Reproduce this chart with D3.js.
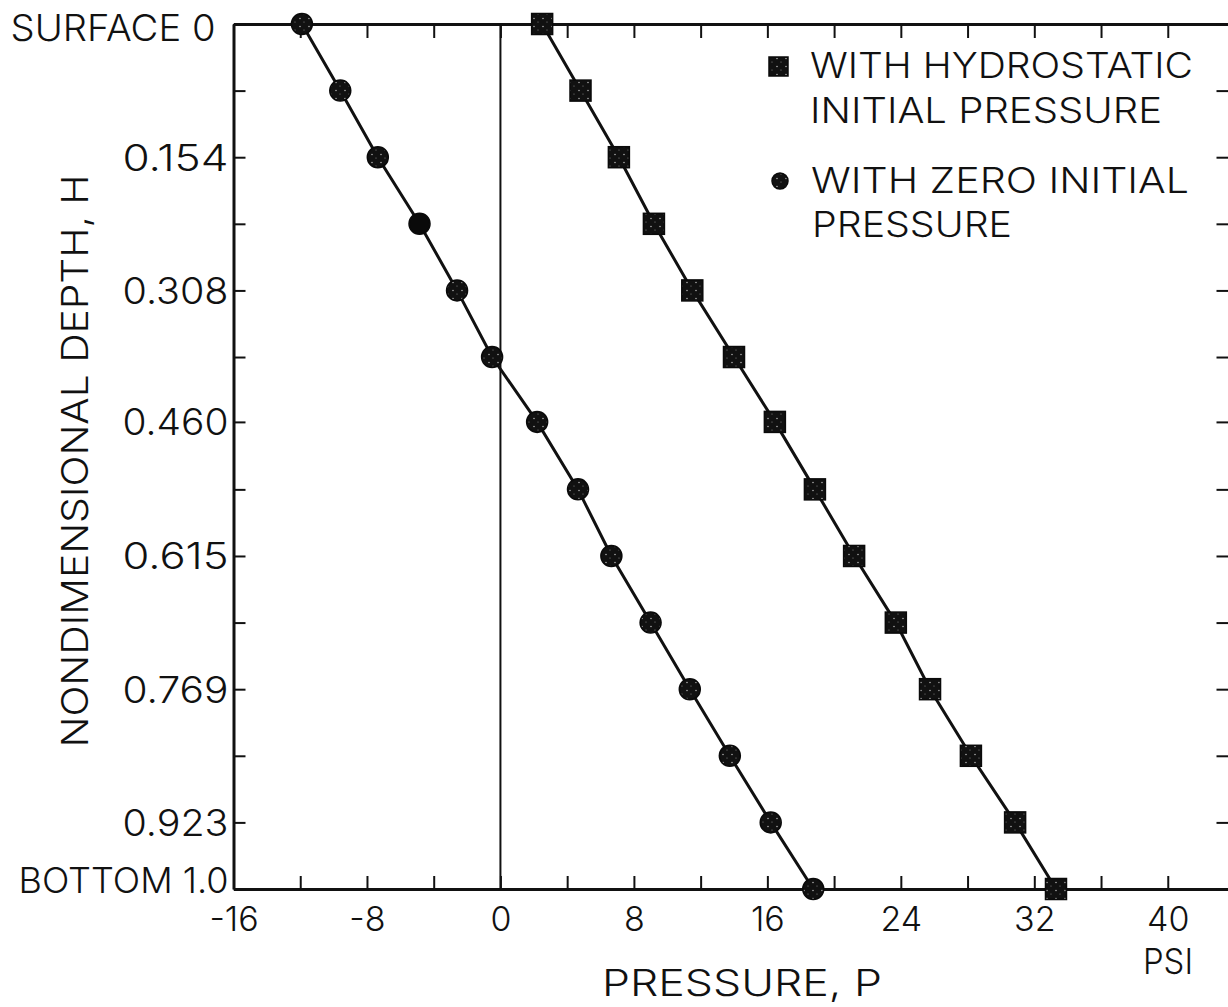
<!DOCTYPE html>
<html>
<head>
<meta charset="utf-8">
<script src="https://cdn.jsdelivr.net/npm/d3@7"></script>
<style>
  html, body { margin: 0; padding: 0; background: #fff; }
  svg text { font-family: "Inter", "Liberation Sans", "DejaVu Sans", sans-serif; font-weight: 300; fill: #111; }
</style>
</head>
<body>
<svg id="chart" width="1228" height="1007"></svg>
<script>
// nondimensional depth stations (H), surface to bottom
const depths = [0, 0.077, 0.154, 0.231, 0.308, 0.385, 0.460, 0.538, 0.615, 0.692, 0.769, 0.846, 0.923, 1.0];
const depthLabels = ["SURFACE 0", "", "0.154", "", "0.308", "", "0.460", "", "0.615", "", "0.769", "", "0.923", "BOTTOM 1.0"];

// pressure P (psi) at each station
const hydrostatic = [2.5, 4.8, 7.1, 9.2, 11.5, 14.0, 16.45, 18.85, 21.2, 23.7, 25.75, 28.2, 30.85, 33.3];
const zeroInitial = [-11.9, -9.6, -7.35, -4.85, -2.6, -0.5, 2.2, 4.65, 6.65, 9.0, 11.35, 13.75, 16.2, 18.75];
// the one station drawn solid
const solidIndex = [3];

const pressureTicks = [-16, -12, -8, -4, 0, 4, 8, 12, 16, 20, 24, 28, 32, 36, 40];
const pressureLabels = [-16, -8, 0, 8, 16, 24, 32, 40];

const svg = d3.select("#chart");

const mLeft = 233.5, mRight = 1234.5, mTop = 24, mBottom = 889;

const x = d3.scaleLinear().domain([-16, 44]).range([mLeft, mRight]);
const y = d3.scaleLinear().domain([0, 1]).range([mTop, mBottom]);

// speckled fill for the printed markers
const defs = svg.append("defs");
const pat = defs.append("pattern")
  .attr("id", "speck")
  .attr("patternUnits", "userSpaceOnUse")
  .attr("width", 9).attr("height", 8);
pat.append("rect").attr("width", 9).attr("height", 8).attr("fill", "#111");
pat.append("circle").attr("cx", 3).attr("cy", 2.5).attr("r", 0.8).attr("fill", "#aaa");
pat.append("circle").attr("cx", 7).attr("cy", 6).attr("r", 0.6).attr("fill", "#888");

function styleAxis(g, w) {
  g.select(".domain").attr("stroke", "#111").attr("stroke-width", w);
  g.selectAll(".tick line").attr("stroke", "#111").attr("stroke-width", 2);
}

// bottom axis: ticks point up into the plot, labels every 8 psi
const xBottom = svg.append("g")
  .attr("transform", `translate(0,${mBottom})`)
  .call(d3.axisBottom(x).tickValues(pressureTicks).tickSize(-13).tickSizeOuter(0)
    .tickFormat(d => pressureLabels.includes(d) ? String(d) : ""));
styleAxis(xBottom, 3);
xBottom.selectAll(".tick text")
  .attr("y", 42)
  .attr("dy", null)
  .attr("font-size", 34).attr("fill", "#111");

// top axis: ticks hang down, no labels
const xTop = svg.append("g")
  .attr("transform", `translate(0,${mTop})`)
  .call(d3.axisTop(x).tickValues(pressureTicks).tickSize(-14).tickSizeOuter(0).tickFormat(""));
styleAxis(xTop, 3);

// left axis with depth labels
const labelWidth = t => t.startsWith("SURFACE") ? 205 : t.startsWith("BOTTOM") ? 210 : 106;
const yLeft = svg.append("g")
  .attr("transform", `translate(${mLeft},0)`)
  .call(d3.axisLeft(y).tickValues(depths).tickSize(-12).tickSizeOuter(0)
    .tickFormat((d, i) => depthLabels[i]));
styleAxis(yLeft, 3);
yLeft.selectAll(".tick text")
  .filter(function() { return this.textContent !== ""; })
  .attr("x", function() { return this.textContent.startsWith("SURFACE") ? -18 : -5; })
  .attr("dy", null)
  .attr("y", function() {
    const t = this.textContent;
    // baseline offset from the tick
    return t.startsWith("SURFACE") ? 16 : t.startsWith("BOTTOM") ? 3 : 13;
  })
  .attr("font-size", function() { return this.textContent.startsWith("BOTTOM") ? 35 : 37; })
  .attr("fill", "#111")
  .attr("textLength", function() { return labelWidth(this.textContent); })
  .attr("lengthAdjust", "spacingAndGlyphs");

// right axis, ticks only
const yRight = svg.append("g")
  .attr("transform", `translate(${mRight},0)`)
  .call(d3.axisRight(y).tickValues(depths).tickSize(-18).tickSizeOuter(0).tickFormat(""));
styleAxis(yRight, 3);

// zero-pressure reference line
svg.append("line")
  .attr("x1", x(0)).attr("x2", x(0))
  .attr("y1", y(0)).attr("y2", y(1))
  .attr("stroke", "#111").attr("stroke-width", 2);

const line = d3.line()
  .x(d => x(d[0]))
  .y(d => y(d[1]));

const hydroPts = hydrostatic.map((p, i) => [p, depths[i]]);
const zeroPts = zeroInitial.map((p, i) => [p, depths[i]]);

svg.append("path").datum(zeroPts)
  .attr("d", line).attr("fill", "none")
  .attr("stroke", "#111").attr("stroke-width", 3);
svg.append("path").datum(hydroPts)
  .attr("d", line).attr("fill", "none")
  .attr("stroke", "#111").attr("stroke-width", 3);

// circles: zero initial pressure
svg.append("g").selectAll("circle")
  .data(zeroPts)
  .join("circle")
  .attr("cx", d => x(d[0]))
  .attr("cy", d => y(d[1]))
  .attr("r", 10.5)
  .attr("fill", (d, i) => solidIndex.includes(i) ? "#0a0a0a" : "url(#speck)")
  .attr("stroke", "#0a0a0a").attr("stroke-width", 1.5);

// squares: hydrostatic initial pressure
svg.append("g").selectAll("rect")
  .data(hydroPts)
  .join("rect")
  .attr("x", d => x(d[0]) - 10.5)
  .attr("y", d => y(d[1]) - 10.5)
  .attr("width", 21).attr("height", 21)
  .attr("fill", "url(#speck)")
  .attr("stroke", "#0a0a0a").attr("stroke-width", 1.5);

// legend
const legend = svg.append("g");
legend.append("rect")
  .attr("x", 769).attr("y", 57).attr("width", 19).attr("height", 19)
  .attr("fill", "url(#speck)").attr("stroke", "#0a0a0a").attr("stroke-width", 1.5);
legend.append("circle")
  .attr("cx", 780).attr("cy", 181).attr("r", 8)
  .attr("fill", "url(#speck)").attr("stroke", "#0a0a0a").attr("stroke-width", 1.5);

const legendLines = [
  { text: "WITH  HYDROSTATIC", x: 810, y: 65, w: 383 },
  { text: "INITIAL PRESSURE", x: 810, y: 110, w: 352 },
  { text: "WITH  ZERO INITIAL", x: 811, y: 180, w: 378 },
  { text: "PRESSURE", x: 812, y: 224, w: 200 }
];
legend.selectAll("text")
  .data(legendLines)
  .join("text")
  .attr("x", d => d.x).attr("y", d => d.y)
  .attr("dy", "0.36em")
  .attr("font-size", 35)
  .attr("textLength", d => d.w)
  .attr("lengthAdjust", "spacingAndGlyphs")
  .text(d => d.text);

// axis titles
svg.append("text")
  .attr("x", 742).attr("y", 983).attr("dy", "0.36em")
  .attr("text-anchor", "middle")
  .attr("font-size", 37)
  .attr("textLength", 280).attr("lengthAdjust", "spacingAndGlyphs")
  .text("PRESSURE, P");

svg.append("text")
  .attr("x", 1168).attr("y", 961).attr("dy", "0.36em")
  .attr("text-anchor", "middle")
  .attr("font-size", 35)
  .attr("textLength", 50).attr("lengthAdjust", "spacingAndGlyphs")
  .text("PSI");

svg.append("text")
  .attr("transform", "translate(75,461) rotate(-90)")
  .attr("dy", "0.36em")
  .attr("text-anchor", "middle")
  .attr("font-size", 37)
  .attr("textLength", 573).attr("lengthAdjust", "spacingAndGlyphs")
  .text("NONDIMENSIONAL DEPTH, H");
</script>
</body>
</html>
